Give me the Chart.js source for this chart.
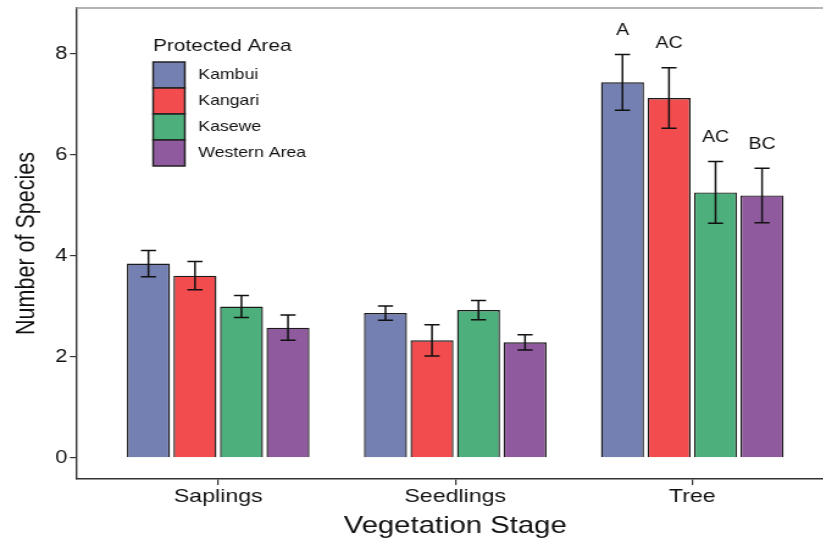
<!DOCTYPE html>
<html>
<head>
<meta charset="utf-8">
<script src="https://cdn.jsdelivr.net/npm/chart.js@4.4.1/dist/chart.umd.min.js"></script>
<style>
  html, body { margin: 0; padding: 0; background: #fff; overflow: hidden; }
  #wrap { width: 823px; height: 539px; overflow: hidden; }
  /* the reference figure is stretched horizontally */
  #chart { transform: scaleX(1.22); transform-origin: 0 0; display: block; }
</style>
</head>
<body>
<div id="wrap"><canvas id="chart" width="684" height="539"></canvas></div>
<script>
// Vegetation stages on the x axis
const stages = ['Saplings', 'Seedlings', 'Tree'];
const areas = ['Kambui', 'Kangari', 'Kasewe', 'Western Area'];

// Mean number of species per stage
const kambui = [3.85, 2.87, 7.44];
const kangari = [3.61, 2.33, 7.13];
const kasewe = [3.00, 2.93, 5.26];
const western = [2.58, 2.29, 5.20];

// Standard errors (half-length of error bars)
const kambuiErr = [0.26, 0.14, 0.55];
const kangariErr = [0.28, 0.31, 0.60];
const kaseweErr = [0.22, 0.19, 0.61];
const westernErr = [0.25, 0.15, 0.54];

// Significance letters shown over the Tree group
const treeLetters = ['A', 'AC', 'AC', 'BC'];

const yTicks = [0, 2, 4, 6, 8];

const fillColors = ['#7580b2', '#f24c4e', '#4daf7b', '#8f5b9e'];

const means = [kambui, kangari, kasewe, western];
const errs = [kambuiErr, kangariErr, kaseweErr, westernErr];

const FONT = "'Liberation Sans', Arial, sans-serif";

// Error bars + letters
const errorBarPlugin = {
    id: 'errorBars',
    afterDatasetsDraw(chart) {
        const ctx = chart.ctx;
        const y = chart.scales.y;
        ctx.save();
        ctx.strokeStyle = '#111';
        ctx.lineWidth = 1.5;
        chart.data.datasets.forEach((ds, di) => {
            const meta = chart.getDatasetMeta(di);
            meta.data.forEach((bar, i) => {
                const m = means[di][i];
                const e = errs[di][i];
                const x = bar.x;
                const top = y.getPixelForValue(m + e);
                const bot = y.getPixelForValue(m - e);
                ctx.beginPath();
                ctx.moveTo(x, top); ctx.lineTo(x, bot);
                ctx.moveTo(x - 6.2, top); ctx.lineTo(x + 6.2, top);
                ctx.moveTo(x - 6.2, bot); ctx.lineTo(x + 6.2, bot);
                ctx.stroke();
                if (i === 2) {
                    ctx.fillStyle = '#111';
                    ctx.font = '16px ' + FONT;
                    ctx.textAlign = 'center';
                    ctx.textBaseline = 'middle';
                    ctx.fillText(treeLetters[di], x, top - 24);
                }
            });
        });
        ctx.restore();
    }
};

// Top frame line and legend inside the panel
const framePlugin = {
    id: 'frame',
    afterDraw(chart) {
        const ctx = chart.ctx;
        const a = chart.chartArea;
        ctx.save();
        ctx.strokeStyle = '#9a9a9a';
        ctx.lineWidth = 1.5;
        ctx.beginPath();
        ctx.moveTo(a.left, a.top);
        ctx.lineTo(chart.width, a.top);
        ctx.stroke();

        // legend
        const lx = 125.5, ly = 62, bw = 26, bh = 26;
        ctx.fillStyle = '#111';
        ctx.font = '17px ' + FONT;
        ctx.textAlign = 'left';
        ctx.textBaseline = 'middle';
        ctx.fillText('Protected Area', lx, 46);
        ctx.font = '14.5px ' + FONT;
        chart.data.datasets.forEach((ds, i) => {
            const by = ly + i * bh;
            ctx.fillStyle = ds.backgroundColor;
            ctx.fillRect(lx, by, bw, bh);
            ctx.strokeStyle = '#222';
            ctx.lineWidth = 1.5;
            ctx.strokeRect(lx, by, bw, bh);
            ctx.fillStyle = '#111';
            ctx.fillText(ds.label, lx + 37, by + bh / 2);
        });
        ctx.restore();
    }
};

const datasets = areas.map((name, di) => ({
    label: name,
    data: stages.map((s, i) => ({ x: i + 1, y: means[di][i] })),
    backgroundColor: fillColors[di],
    borderColor: '#1a1a1a',
    borderWidth: 1.4,
    categoryPercentage: 0.785,
    barPercentage: 0.925
}));

new Chart(document.getElementById('chart'), {
    type: 'bar',
    data: { datasets },
    options: {
        responsive: false,
        animation: false,
        layout: { padding: { top: 8, right: 0, left: 0, bottom: 0 } },
        plugins: {
            legend: { display: false },
            tooltip: { enabled: false }
        },
        scales: {
            x: {
                type: 'linear',
                min: 0.4,
                max: 3.6,
                offset: false,
                afterBuildTicks: (scale) => { scale.ticks = stages.map((s, i) => ({ value: i + 1 })); },
                afterFit: (scale) => { scale.height = 60; scale.paddingLeft = 0; scale.paddingRight = 0; },
                grid: { offset: false, drawOnChartArea: false, drawTicks: true, tickLength: 6, color: '#333', lineWidth: 1.2 },
                border: { color: '#333', width: 1.5 },
                ticks: {
                    color: '#111',
                    font: { family: FONT, size: 19 },
                    padding: 0,
                    maxRotation: 0,
                    callback: (v) => stages[v - 1]
                },
                title: {
                    display: true,
                    text: 'Vegetation Stage',
                    color: '#111',
                    font: { family: FONT, size: 24 },
                    padding: { top: 0, bottom: -2 }
                }
            },
            y: {
                min: -0.417,
                max: 8.913,
                afterBuildTicks: (scale) => { scale.ticks = yTicks.map(v => ({ value: v })); },
                afterFit: (scale) => { scale.width = 62.3; scale.paddingTop = 0; scale.paddingBottom = 0; },
                grid: { drawOnChartArea: false, drawTicks: true, tickLength: 5, color: '#333', lineWidth: 1.2 },
                border: { color: '#333', width: 1.4 },
                ticks: {
                    color: '#111',
                    font: { family: FONT, size: 18 },
                    padding: 2
                },
                title: {
                    display: true,
                    text: 'Number of Species',
                    color: '#111',
                    font: { family: FONT, size: 21.5 },
                    padding: { top: 9, bottom: 0 }
                }
            }
        }
    },
    plugins: [errorBarPlugin, framePlugin]
});
</script>
</body>
</html>
